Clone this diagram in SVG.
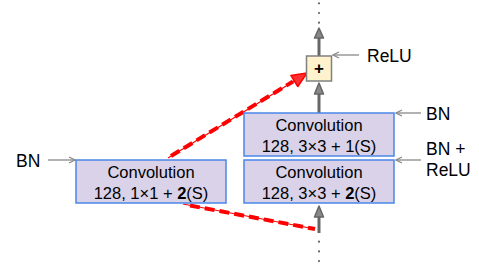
<svg xmlns="http://www.w3.org/2000/svg" width="479" height="266" viewBox="0 0 479 266">
<defs>
<style>
.box{fill:#d9d2e9;stroke:#4a86e8;stroke-width:1.5}
.plus{fill:#fff2cc;stroke:#808080;stroke-width:1.5}
.t{font-family:"Liberation Sans",Arial,sans-serif;font-size:16.5px;fill:#000}
.lbl{font-family:"Liberation Sans",Arial,sans-serif;font-size:17.5px;fill:#000}
.main{stroke:#666;stroke-width:3;fill:none}
.head{fill:#888;stroke:#666;stroke-width:1.5;stroke-linejoin:round}
.dots{stroke:#666;stroke-width:2.2;stroke-linecap:round;stroke-dasharray:0 9.7;fill:none}
.thin{stroke:#888;stroke-width:1.3;fill:none}
.rthin{stroke:#ff0000;stroke-width:1.2;fill:none}
.rdash{stroke:#ff0000;stroke-width:4;stroke-dasharray:10 5;fill:none}
</style>
<marker id="ah" markerWidth="8" markerHeight="8" refX="7" refY="4" orient="auto" markerUnits="userSpaceOnUse">
<path d="M1,1 L7,4 L1,7" fill="none" stroke="#888" stroke-width="1.2"/>
</marker>
</defs>
<g id="connectors">
<line class="dots" x1="319" y1="3.3" x2="319" y2="24"/>
<line class="main" x1="319" y1="56" x2="319" y2="34"/>
<polygon class="head" points="319,28 314.5,38 323.5,38"/>
<line class="main" x1="319" y1="113" x2="319" y2="90"/>
<polygon class="head" points="319,83 314.5,94 323.5,94"/>
<line class="main" x1="319" y1="233" x2="319" y2="212"/>
<polygon class="head" points="319,206 314.5,217 323.5,217"/>
<line class="dots" x1="319" y1="241.7" x2="319" y2="266"/>
<line class="thin" x1="359" y1="55" x2="333" y2="55" marker-end="url(#ah)"/>
<line class="thin" x1="421" y1="113" x2="396" y2="113" marker-end="url(#ah)"/>
<line class="thin" x1="421" y1="160" x2="396" y2="160" marker-end="url(#ah)"/>
<line class="thin" x1="48" y1="160" x2="75" y2="160" marker-end="url(#ah)"/>
<line class="rthin" x1="168" y1="158" x2="296" y2="80"/>
<line class="rdash" x1="171" y1="156" x2="293" y2="81.5"/>
<polygon points="307,73 297.8,86.5 290.9,75.4" fill="#ff3030" stroke="#ff0000" stroke-width="1.5" stroke-linejoin="round"/>
<line class="rthin" x1="183" y1="204" x2="315" y2="229"/>
<line class="rdash" x1="190" y1="205.5" x2="315" y2="229"/>
</g>
<g id="plus">
<rect class="plus" x="306.5" y="56" width="25" height="25"/>
<text x="319" y="74" text-anchor="middle" style="font-family:'Liberation Sans',Arial,sans-serif;font-size:17px;font-weight:bold">+</text>
</g>
<g id="conv2">
<rect class="box" x="244" y="113" width="150" height="43"/>
<text class="t" x="319" y="131" text-anchor="middle">Convolution</text>
<text class="t" x="319" y="152" text-anchor="middle">128, 3×3 + 1(S)</text>
</g>
<g id="conv1">
<rect class="box" x="244" y="160" width="150" height="43"/>
<text class="t" x="319" y="178" text-anchor="middle">Convolution</text>
<text class="t" x="319" y="199" text-anchor="middle">128, 3×3 + <tspan font-weight="bold">2</tspan>(S)</text>
</g>
<g id="shortcut">
<rect class="box" x="76" y="160" width="150" height="43"/>
<text class="t" x="151" y="178" text-anchor="middle">Convolution</text>
<text class="t" x="151" y="199" text-anchor="middle">128, 1×1 + <tspan font-weight="bold">2</tspan>(S)</text>
</g>
<g id="labels">
<text class="lbl" x="367" y="62">ReLU</text>
<text class="lbl" x="426" y="119.5">BN</text>
<text class="lbl" x="426" y="155">BN +</text>
<text class="lbl" x="426" y="175.5">ReLU</text>
<text class="lbl" x="16" y="166.5">BN</text>
</g>
</svg>
